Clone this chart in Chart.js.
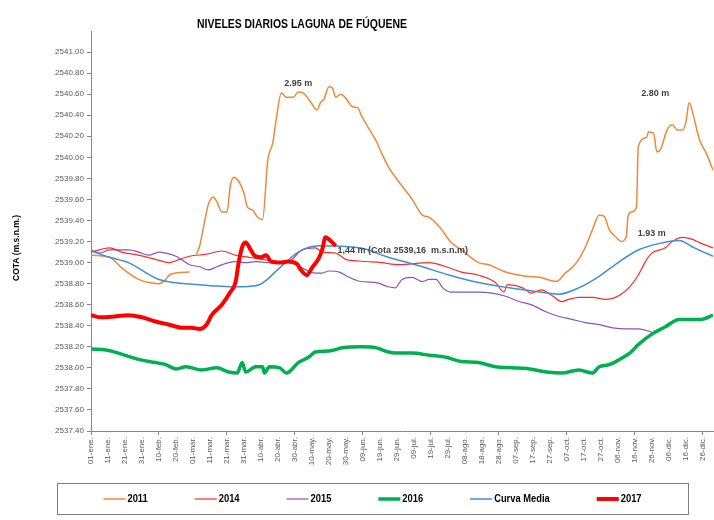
<!DOCTYPE html>
<html>
<head>
<meta charset="utf-8">
<title>Niveles diarios Laguna de Fúquene</title>
<script src="https://cdn.jsdelivr.net/npm/chart.js@4.4.1/dist/chart.umd.min.js"></script>
<style>
  html, body { margin: 0; padding: 0; background: #fff; }
  #wrap { position: relative; width: 714px; height: 520px; }
</style>
</head>
<body>
<div id="wrap"><canvas id="nivelesChart" width="714" height="520"></canvas></div>
<script>
// etiquetas del eje x, una cada 10 dias
const tickLabels = [
  "01-ene.", "11-ene.", "21-ene.", "31-ene.", "10-feb.", "20-feb.", "01-mar.", "11-mar.",
  "21-mar.", "31-mar.", "10-abr.", "20-abr.", "30-abr.", "10-may.", "20-may.", "30-may.",
  "09-jun.", "19-jun.", "29-jun.", "09-jul.", "19-jul.", "29-jul.", "08-ago.", "18-ago.",
  "28-ago.", "07-sep.", "17-sep.", "27-sep.", "07-oct.", "17-oct.", "27-oct.", "06-nov.",
  "16-nov.", "26-nov.", "06-dic.", "16-dic.", "26-dic."
];

// 2011 (null = hueco en el registro)
const days2011 = [0, 11, 18, 28, 34, 40, 44, 46, 50, 58, 60, 62, 64, 66, 69, 72, 74, 77, 80, 82, 84, 87, 90, 92, 95, 98, 101, 104, 107, 109, 112, 115, 119, 122, 125, 129, 133, 135, 137, 140, 142, 144, 147, 150, 154, 157, 159, 164, 168, 171, 175, 181, 189, 195, 199, 205, 212, 218, 228, 234, 244, 256, 264, 274, 279, 283, 287, 291, 295, 299, 302, 305, 309, 312, 315, 316, 318, 321, 322, 327, 328, 331, 333, 335, 339, 342, 345, 348, 350, 352, 355, 358, 362, 366];
const cota2011 = [2539.07, 2539.05, 2538.95, 2538.84, 2538.81, 2538.80, 2538.84, 2538.88, 2538.90, 2538.91, null, 2539.08, 2539.16, 2539.32, 2539.55, 2539.62, 2539.58, 2539.48, 2539.48, 2539.73, 2539.81, 2539.77, 2539.66, 2539.53, 2539.50, 2539.43, 2539.41, 2539.97, 2540.14, 2540.36, 2540.61, 2540.57, 2540.57, 2540.62, 2540.61, 2540.53, 2540.45, 2540.52, 2540.55, 2540.67, 2540.66, 2540.57, 2540.60, 2540.56, 2540.48, 2540.47, 2540.40, 2540.26, 2540.15, 2540.04, 2539.91, 2539.77, 2539.60, 2539.45, 2539.43, 2539.34, 2539.19, 2539.12, 2539.00, 2538.98, 2538.91, 2538.87, 2538.86, 2538.82, 2538.90, 2538.95, 2539.03, 2539.15, 2539.31, 2539.45, 2539.44, 2539.31, 2539.24, 2539.20, 2539.25, 2539.44, 2539.48, 2539.53, 2540.10, 2540.19, 2540.24, 2540.23, 2540.05, 2540.07, 2540.26, 2540.31, 2540.26, 2540.26, 2540.33, 2540.52, 2540.36, 2540.17, 2540.04, 2539.88];

// 2014
const days2014 = [0, 11, 18, 28, 38, 46, 52, 58, 68, 77, 85, 93, 101, 109, 116, 124, 132, 136, 144, 150, 162, 171, 181, 199, 209, 218, 228, 238, 243, 245, 254, 259, 265, 271, 277, 281, 287, 295, 303, 311, 317, 322, 327, 330, 338, 342, 348, 354, 358, 366];
const cota2014 = [2539.10, 2539.14, 2539.10, 2539.07, 2539.03, 2539.00, 2539.03, 2539.06, 2539.08, 2539.11, 2539.07, 2539.05, 2539.03, 2539.01, 2539.01, 2539.12, 2539.14, 2539.10, 2539.09, 2539.03, 2539.01, 2539.00, 2538.98, 2539.00, 2538.96, 2538.91, 2538.88, 2538.81, 2538.72, 2538.79, 2538.76, 2538.71, 2538.74, 2538.69, 2538.63, 2538.65, 2538.67, 2538.67, 2538.65, 2538.69, 2538.77, 2538.88, 2539.03, 2539.09, 2539.14, 2539.20, 2539.24, 2539.22, 2539.19, 2539.14];

// 2015
const days2015 = [0, 5, 11, 22, 28, 34, 40, 44, 50, 58, 64, 69, 74, 81, 85, 91, 97, 105, 117, 124, 132, 136, 140, 146, 152, 159, 168, 175, 179, 183, 189, 195, 199, 203, 207, 212, 221, 228, 236, 244, 252, 259, 268, 275, 283, 291, 299, 307, 315, 322, 330];
const cota2015 = [2539.12, 2539.09, 2539.12, 2539.12, 2539.10, 2539.07, 2539.10, 2539.09, 2539.06, 2538.98, 2538.96, 2538.93, 2538.96, 2539.00, 2539.01, 2539.00, 2539.01, 2539.00, 2539.00, 2538.95, 2538.90, 2538.90, 2538.92, 2538.91, 2538.86, 2538.82, 2538.81, 2538.77, 2538.76, 2538.84, 2538.86, 2538.82, 2538.84, 2538.84, 2538.76, 2538.72, 2538.72, 2538.72, 2538.71, 2538.68, 2538.63, 2538.60, 2538.53, 2538.49, 2538.46, 2538.43, 2538.41, 2538.38, 2538.37, 2538.37, 2538.34];

// 2016
const days2016 = [0, 9, 18, 28, 38, 44, 50, 56, 65, 74, 81, 86, 89, 91, 97, 101, 102, 105, 111, 115, 122, 128, 132, 140, 148, 159, 168, 175, 179, 189, 199, 209, 218, 228, 238, 248, 258, 268, 277, 287, 295, 299, 305, 311, 317, 322, 330, 338, 346, 354, 359, 366];
const cota2016 = [2538.18, 2538.17, 2538.13, 2538.08, 2538.05, 2538.03, 2537.99, 2538.01, 2537.98, 2538.00, 2537.96, 2537.95, 2538.05, 2537.96, 2538.01, 2538.01, 2537.95, 2538.01, 2538.00, 2537.95, 2538.05, 2538.10, 2538.15, 2538.16, 2538.19, 2538.20, 2538.19, 2538.15, 2538.14, 2538.14, 2538.12, 2538.10, 2538.06, 2538.05, 2538.01, 2538.00, 2537.99, 2537.96, 2537.95, 2537.98, 2537.95, 2538.01, 2538.03, 2538.08, 2538.14, 2538.22, 2538.32, 2538.39, 2538.46, 2538.46, 2538.46, 2538.50];

// Curva media
const daysMedia = [0, 11, 22, 40, 64, 87, 99, 111, 122, 134, 158, 175, 193, 211, 228, 246, 264, 275, 287, 299, 311, 322, 334, 346, 355, 366];
const cotaMedia = [2539.11, 2539.05, 2539.00, 2538.84, 2538.79, 2538.77, 2538.79, 2538.95, 2539.10, 2539.16, 2539.14, 2539.05, 2538.97, 2538.88, 2538.81, 2538.76, 2538.72, 2538.70, 2538.76, 2538.87, 2539.01, 2539.12, 2539.18, 2539.21, 2539.14, 2539.06];

// 2017
const days2017 = [0, 6, 15, 22, 30, 38, 46, 54, 59, 64, 68, 71, 77, 82, 85, 87, 89, 91, 94, 96, 100, 103, 106, 112, 116, 121, 124, 127, 130, 134, 136, 138, 140, 144];
const cota2017 = [2538.50, 2538.48, 2538.49, 2538.50, 2538.48, 2538.44, 2538.41, 2538.38, 2538.38, 2538.37, 2538.41, 2538.50, 2538.60, 2538.72, 2538.81, 2539.01, 2539.15, 2539.19, 2539.12, 2539.07, 2539.05, 2539.07, 2539.01, 2539.00, 2539.01, 2538.99, 2538.92, 2538.88, 2538.95, 2539.04, 2539.12, 2539.24, 2539.22, 2539.16];

const seriesNames = ["2011", "2014", "2015", "2016", "Curva Media", "2017"];
const seriesColors = ["#F0883A", "#FF2A2A", "#8A55B8", "#00B050", "#3F8FD8", "#FF0000"];
const seriesWidths = [1.5, 1.2, 1.2, 3.5, 1.5, 4];

const chartTitle = "NIVELES DIARIOS LAGUNA DE FÚQUENE";
const yTitle = "COTA (m.s.n.m.)";

// textos sobre la grafica, anclados a dia / cota
const notes = [
  { day: 122, cota: 2540.70, text: "2.95 m", align: "center" },
  { day: 332, cota: 2540.61, text: "2.80 m", align: "center" },
  { day: 330, cota: 2539.28, text: "1.93 m", align: "center" },
  { day: 145, cota: 2539.11, text: "1,44 m (Cota 2539,16  m.s.n.m)", align: "left" }
];

const SANS = '"Liberation Sans", Arial, sans-serif';
const AXIS_GREY = "#868686";
const TEXT_GREY = "#595959";

function toPoints(days, values) {
  return days.map((d, i) => ({ x: d, y: values[i] }));
}

const seriesData = [
  toPoints(days2011, cota2011),
  toPoints(days2014, cota2014),
  toPoints(days2015, cota2015),
  toPoints(days2016, cota2016),
  toPoints(daysMedia, cotaMedia),
  toPoints(days2017, cota2017)
];

// 2017 y 2016 encima del resto
const drawOrder = [5, 4, 4, 2, 3, 0];

const datasets = seriesNames.map((name, i) => ({
  label: name,
  data: seriesData[i],
  borderColor: seriesColors[i],
  backgroundColor: seriesColors[i],
  borderWidth: seriesWidths[i],
  pointRadius: 0,
  pointHoverRadius: 0,
  tension: 0.25,
  cubicInterpolationMode: "monotone",
  spanGaps: false,
  order: drawOrder[i]
}));

// texto "estrecho": se comprime en horizontal
function narrowText(ctx, text, x, y, squeeze) {
  ctx.save();
  ctx.translate(x, y);
  ctx.scale(squeeze, 1);
  ctx.fillText(text, 0, 0);
  ctx.restore();
}

const overlayPlugin = {
  id: "overlay",
  afterDraw(chart) {
    const ctx = chart.ctx;
    const xs = chart.scales.x;
    const ys = chart.scales.y;

    ctx.save();

    // titulo
    ctx.fillStyle = "#000";
    ctx.font = "bold 12px " + SANS;
    ctx.textAlign = "center";
    ctx.textBaseline = "middle";
    narrowText(ctx, chartTitle, 302, 25, 0.87);

    // titulo eje y
    ctx.save();
    ctx.translate(17, 248);
    ctx.rotate(-Math.PI / 2);
    ctx.font = "bold 8.5px " + SANS;
    ctx.fillText(yTitle, 0, 0);
    ctx.restore();

    // notas
    ctx.fillStyle = "#404040";
    ctx.font = "bold 9px " + SANS;
    notes.forEach(n => {
      ctx.textAlign = n.align;
      ctx.fillText(n.text, xs.getPixelForValue(n.day), ys.getPixelForValue(n.cota));
    });

    // leyenda
    const box = { left: 57, top: 483, right: 688, bottom: 514 };
    ctx.strokeStyle = "#7f7f7f";
    ctx.lineWidth = 1;
    ctx.strokeRect(box.left + 0.5, box.top + 0.5, box.right - box.left, box.bottom - box.top);

    const squeeze = 0.85;
    ctx.font = "bold 11px " + SANS;
    const lineLen = 22;
    const gapText = 2;
    const gapItem = 47;
    const widths = seriesNames.map(n => lineLen + gapText + ctx.measureText(n).width * squeeze);
    const total = widths.reduce((a, b) => a + b, 0) + gapItem * (widths.length - 1);
    let x = (box.left + box.right) / 2 - total / 2;
    const y = 499;
    ctx.textAlign = "left";
    seriesNames.forEach((name, i) => {
      ctx.strokeStyle = seriesColors[i];
      ctx.lineWidth = seriesWidths[i];
      ctx.beginPath();
      ctx.moveTo(x, y);
      ctx.lineTo(x + lineLen, y);
      ctx.stroke();
      ctx.fillStyle = "#000";
      narrowText(ctx, name, x + lineLen + gapText, y, squeeze);
      x += widths[i] + gapItem;
    });

    ctx.restore();
  }
};

new Chart(document.getElementById("nivelesChart"), {
  type: "line",
  data: { datasets: datasets },
  options: {
    responsive: false,
    animation: false,
    devicePixelRatio: 1,
    layout: { padding: { top: 31, right: 1, bottom: 0, left: 0 } },
    plugins: {
      legend: { display: false },
      tooltip: { enabled: false },
      title: { display: false }
    },
    scales: {
      x: {
        type: "linear",
        min: 0,
        max: 366,
        border: { display: true, color: AXIS_GREY, width: 1 },
        grid: {
          drawOnChartArea: false,
          drawTicks: true,
          tickLength: 4,
          color: c => (c.tick && c.tick.value % 40 === 0 ? AXIS_GREY : "rgba(0,0,0,0)")
        },
        ticks: {
          stepSize: 10,
          includeBounds: false,
          autoSkip: false,
          maxTicksLimit: 40,
          minRotation: 90,
          maxRotation: 90,
          padding: 2,
          color: TEXT_GREY,
          font: { family: SANS, size: 8 },
          callback: v => (v % 10 === 0 && tickLabels[v / 10] ? tickLabels[v / 10] : "")
        },
        afterFit: s => {
          s.height = 89;
          s.paddingLeft = 0;
          s.paddingRight = 0;
        }
      },
      y: {
        type: "linear",
        min: 2537.4,
        max: 2541.2,
        border: { display: true, color: AXIS_GREY, width: 1 },
        grid: {
          drawOnChartArea: false,
          drawTicks: true,
          tickLength: 4,
          color: c => (c.tick && c.tick.value > 2541.1 ? "rgba(0,0,0,0)" : AXIS_GREY)
        },
        ticks: {
          stepSize: 0.2,
          maxTicksLimit: 30,
          padding: 3,
          color: TEXT_GREY,
          font: { family: SANS, size: 8 },
          callback: v => (v > 2541.1 ? "" : Number(v).toFixed(2))
        },
        afterFit: s => {
          s.width = 91;
        }
      }
    }
  },
  plugins: [overlayPlugin]
});
</script>
</body>
</html>
